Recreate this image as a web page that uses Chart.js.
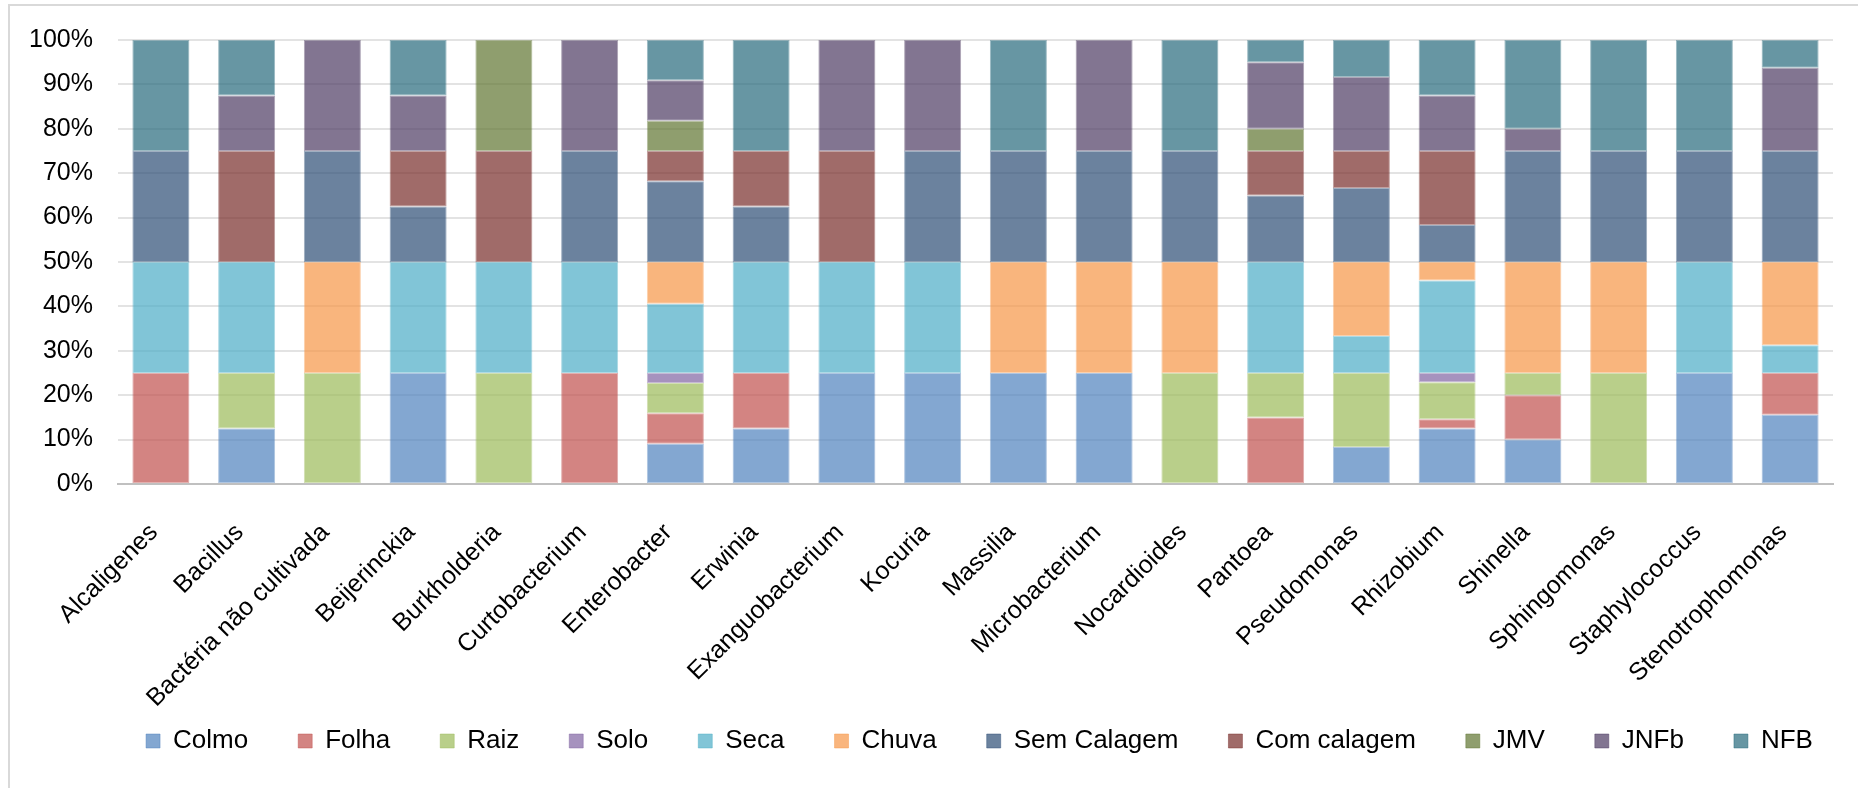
<!DOCTYPE html>
<html>
<head>
<meta charset="utf-8">
<script src="https://cdn.jsdelivr.net/npm/chart.js@4/dist/chart.umd.min.js"></script>
<style>
  html, body { margin: 0; padding: 0; background: #fff; overflow: hidden; }
  #frame {
    position: absolute; left: 8px; top: 4px; width: 1900px; height: 900px;
    border-left: 2px solid #d9d9d9; border-top: 2px solid #d9d9d9;
  }
  #wrap { position: absolute; left: 0; top: 0; width: 1858px; height: 788px; }
</style>
</head>
<body>
<div id="frame"></div>
<div id="wrap"><canvas id="generos"></canvas></div>
<script>
var categories = [
  'Alcaligenes', 'Bacillus', 'Bactéria não cultivada', 'Beijerinckia', 'Burkholderia',
  'Curtobacterium', 'Enterobacter', 'Erwinia', 'Exanguobacterium', 'Kocuria',
  'Massilia', 'Microbacterium', 'Nocardioides', 'Pantoea', 'Pseudomonas',
  'Rhizobium', 'Shinella', 'Sphingomonas', 'Staphylococcus', 'Stenotrophomonas'
];

// % of isolates per genus
var colmo      = [0, 12.5, 0, 25, 0, 0, 9.09, 12.5, 25, 25, 25, 25, 0, 0, 8.33, 12.5, 10, 0, 25, 15.62];
var folha      = [25, 0, 0, 0, 0, 25, 6.82, 12.5, 0, 0, 0, 0, 0, 15, 0, 2.08, 10, 0, 0, 9.38];
var raiz       = [0, 12.5, 25, 0, 25, 0, 6.82, 0, 0, 0, 0, 0, 25, 10, 16.67, 8.34, 5, 25, 0, 0];
var solo       = [0, 0, 0, 0, 0, 0, 2.27, 0, 0, 0, 0, 0, 0, 0, 0, 2.08, 0, 0, 0, 0];
var seca       = [25, 25, 0, 25, 25, 25, 15.62, 25, 25, 25, 0, 0, 0, 25, 8.33, 20.83, 0, 0, 25, 6.25];
var chuva      = [0, 0, 25, 0, 0, 0, 9.38, 0, 0, 0, 25, 25, 25, 0, 16.67, 4.17, 25, 25, 0, 18.75];
var semCalagem = [25, 0, 25, 12.5, 0, 25, 18.18, 12.5, 0, 25, 25, 25, 25, 15, 16.67, 8.33, 25, 25, 25, 25];
var comCalagem = [0, 25, 0, 12.5, 25, 0, 6.82, 12.5, 25, 0, 0, 0, 0, 10, 8.33, 16.67, 0, 0, 0, 0];
var jmv        = [0, 0, 0, 0, 25, 0, 6.82, 0, 0, 0, 0, 0, 0, 5, 0, 0, 0, 0, 0, 0];
var jnfb       = [0, 12.5, 25, 12.5, 0, 25, 9.09, 0, 25, 25, 0, 25, 0, 15, 16.67, 12.5, 5, 0, 0, 18.75];
var nfb        = [25, 12.5, 0, 12.5, 0, 0, 9.09, 25, 0, 0, 25, 0, 25, 5, 8.33, 12.5, 20, 25, 25, 6.25];

var yTicks = [0, 10, 20, 30, 40, 50, 60, 70, 80, 90, 100];

var series = [
  ['Colmo', colmo, '79, 129, 189'],
  ['Folha', folha, '192, 80, 77'],
  ['Raiz', raiz, '155, 187, 89'],
  ['Solo', solo, '128, 100, 162'],
  ['Seca', seca, '75, 172, 198'],
  ['Chuva', chuva, '247, 150, 70'],
  ['Sem Calagem', semCalagem, '44, 77, 117'],
  ['Com calagem', comCalagem, '119, 44, 42'],
  ['JMV', jmv, '95, 117, 48'],
  ['JNFb', jnfb, '77, 59, 98'],
  ['NFB', nfb, '39, 106, 124']
];

var font = "'Liberation Sans', Arial, sans-serif";

// the x axis is kept tall so long slanted names are not clipped;
// the legend box is then stretched up into that band and moved right, under the bars
var legendNudge = {
  id: 'legendNudge',
  afterLayout: function(chart) {
    var lg = chart.legend;
    lg.left += 54;
    lg.right += 54;
    lg.top -= 46;
  }
};

var config = {
  type: 'bar',
  data: {
    labels: categories,
    datasets: series.map(function(s) {
      return {
        label: s[0],
        data: s[1],
        backgroundColor: 'rgba(' + s[2] + ', 0.7)',
        borderColor: 'rgba(' + s[2] + ', 0.45)',
        borderWidth: 1,
        borderSkipped: false,
        categoryPercentage: 1,
        barPercentage: 0.665
      };
    })
  },
  options: {
    responsive: true,
    maintainAspectRatio: false,
    animation: false,
    layout: {
      padding: { left: 18, right: 25, top: 34, bottom: 24 }
    },
    scales: {
      x: {
        stacked: true,
        grid: { display: false },
        border: { display: true, color: '#c0c0c0', width: 2 },
        ticks: {
          autoSkip: false,
          minRotation: 45,
          maxRotation: 45,
          padding: 26,
          labelOffset: -7,
          color: '#000',
          font: { family: font, size: 25 }
        },
        afterFit: function(scale) { scale.height = 240; }
      },
      y: {
        stacked: true,
        min: 0,
        max: 100,
        afterBuildTicks: function(scale) {
          scale.ticks = yTicks.map(function(v) { return { value: v }; });
        },
        grid: { color: '#e3e3e3', lineWidth: 2, drawTicks: false },
        border: { display: false },
        ticks: {
          padding: 25,
          color: '#000',
          font: { family: font, size: 25 },
          callback: function(v) { return v + '%'; }
        },
        afterFit: function(scale) { scale.width = 100; }
      }
    },
    plugins: {
      legend: {
        position: 'bottom',
        maxHeight: 40,
        labels: {
          boxWidth: 14,
          boxHeight: 14,
          padding: 50,
          color: '#000',
          font: { family: font, size: 26 }
        }
      },
      title: { display: false },
      tooltip: { enabled: false }
    }
  },
  plugins: [legendNudge]
};

window.onload = function() {
  var ctx = document.getElementById('generos').getContext('2d');
  window.generosChart = new Chart(ctx, config);
};
</script>
</body>
</html>
